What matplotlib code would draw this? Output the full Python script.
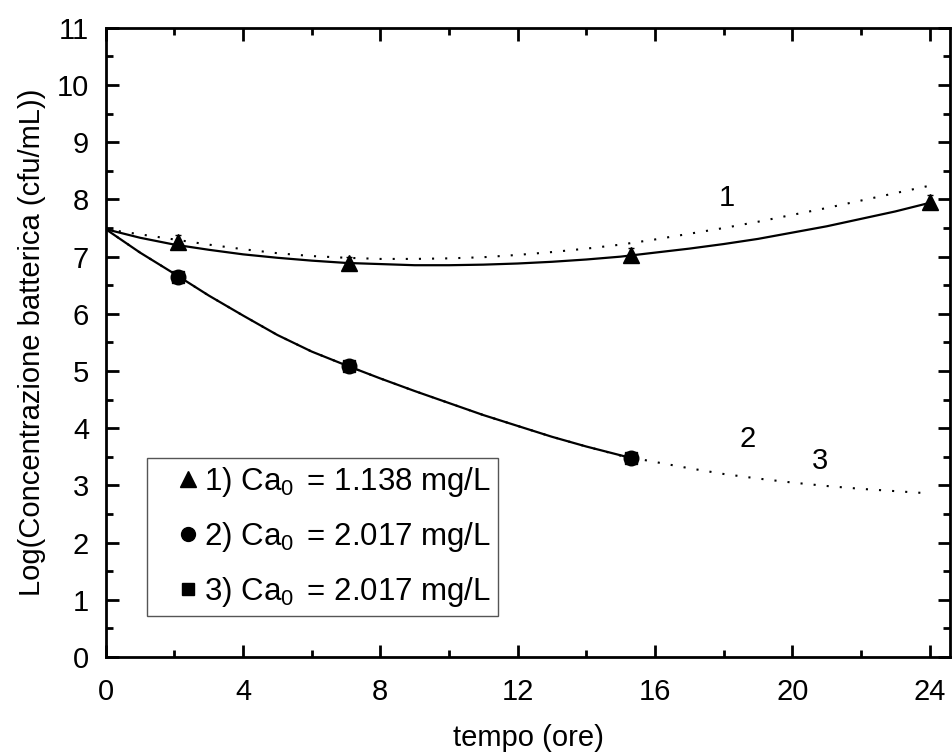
import matplotlib
matplotlib.use('Agg')
import matplotlib.pyplot as plt
from matplotlib.lines import Line2D
from matplotlib.ticker import MultipleLocator

plt.rcParams['font.family'] = ['Liberation Sans', 'DejaVu Sans']
plt.rcParams['mathtext.fontset'] = 'custom'
plt.rcParams['mathtext.rm'] = 'Liberation Sans'
plt.rcParams['mathtext.it'] = 'Liberation Sans'

# misure sperimentali
t_meas = [2.1, 7.1, 15.3, 24.0]
y1_meas = [7.25, 6.88, 7.03, 7.95]
y1_err = [0.12, 0.12, 0.12, 0.12]
t_meas23 = [2.1, 7.1, 15.3]
y2_meas = [6.65, 5.09, 3.48]
y3_meas = [6.65, 5.09, 3.48]

# curve del modello
t_curve = [0, 1, 2, 3, 4, 5, 6, 7, 8, 9, 10, 11, 12,
           13, 14, 15, 16, 17, 18, 19, 20, 21, 22, 23, 24]
fit1_solid = [7.48, 7.33, 7.21, 7.12, 7.04, 6.98, 6.93, 6.89, 6.87, 6.85, 6.85, 6.86, 6.88,
              6.91, 6.95, 7.00, 7.07, 7.14, 7.22, 7.31, 7.42, 7.53, 7.66, 7.79, 7.94]
fit1_dot = [7.48, 7.39, 7.30, 7.21, 7.13, 7.06, 7.01, 6.98, 6.96, 6.96, 6.97, 6.99, 7.03,
            7.08, 7.14, 7.21, 7.30, 7.40, 7.50, 7.61, 7.73, 7.85, 7.98, 8.11, 8.24]
fit23_dot = [7.48, 7.07, 6.70, 6.32, 5.97, 5.63, 5.34, 5.10, 4.87, 4.65, 4.44, 4.23, 4.04,
             3.85, 3.68, 3.52, 3.41, 3.30, 3.20, 3.12, 3.05, 2.99, 2.94, 2.90, 2.86]
t_fit2 = [0, 1, 2, 3, 4, 5, 6, 7, 8, 9, 10, 11, 12, 13, 14, 15.3]
fit2_solid = [7.48, 7.07, 6.70, 6.32, 5.97, 5.63, 5.34, 5.10, 4.87, 4.65, 4.44, 4.23, 4.04,
              3.85, 3.68, 3.48]

labels = [r'1) Ca$_0\,$ = 1.138 mg/L', r'2) Ca$_0\,$ = 2.017 mg/L', r'3) Ca$_0\,$ = 2.017 mg/L']

fs = 21

fig = plt.figure(figsize=(9.53, 7.53), dpi=100)
ax = fig.add_axes([0.111, 0.1275, 0.886, 0.8355])

dots = (0, (1, 5.3))
ax.plot(t_curve, fit1_dot, color='black', lw=1.5, linestyle=dots)
ax.plot(t_curve, fit23_dot, color='black', lw=1.5, linestyle=dots)
ax.plot(t_curve, fit1_solid, color='black', lw=1.6)
ax.plot(t_fit2, fit2_solid, color='black', lw=1.6)

ax.errorbar(t_meas, y1_meas, yerr=y1_err, fmt='^', color='black', ms=11,
            capsize=2, elinewidth=1.5)
ax.plot(t_meas23, y2_meas, 'o', color='black', ms=10.5)
ax.plot(t_meas23, y3_meas, 's', color='black', ms=9)

ax.text(18.1, 8.02, '1', fontsize=fs, ha='center', va='center')
ax.text(18.7, 3.82, '2', fontsize=fs, ha='center', va='center')
ax.text(20.8, 3.42, '3', fontsize=fs, ha='center', va='center')

ax.set_xlim(0, 24.6)
ax.set_ylim(0, 11)
ax.xaxis.set_major_locator(MultipleLocator(4))
ax.xaxis.set_minor_locator(MultipleLocator(2))
ax.yaxis.set_major_locator(MultipleLocator(1))
ax.yaxis.set_minor_locator(MultipleLocator(0.5))
ax.tick_params(which='both', direction='in', top=True, right=True, width=2,
               labelsize=fs)
ax.tick_params(which='major', length=9)
ax.tick_params(which='minor', length=5)
ax.tick_params(axis='x', pad=15)
ax.tick_params(axis='y', pad=12)
for s in ax.spines.values():
    s.set_linewidth(2)

ax.set_xlabel('tempo (ore)', fontsize=fs, labelpad=13)
ax.set_ylabel('Log(Concentrazione batterica (cfu/mL))', fontsize=fs, labelpad=8)

handles = [Line2D([], [], marker='^', color='black', ls='none', ms=11),
           Line2D([], [], marker='o', color='black', ls='none', ms=10),
           Line2D([], [], marker='s', color='black', ls='none', ms=8)]
leg = ax.legend(handles, labels, loc='lower left', bbox_to_anchor=(0.049, 0.065),
                borderaxespad=0, fontsize=22.5, fancybox=False, framealpha=1,
                edgecolor='#555555', handletextpad=-0.6, labelspacing=0.68,
                borderpad=0.22, handlelength=2.2)
leg.get_frame().set_linewidth(1)

fig.savefig('out.png', dpi=100)
